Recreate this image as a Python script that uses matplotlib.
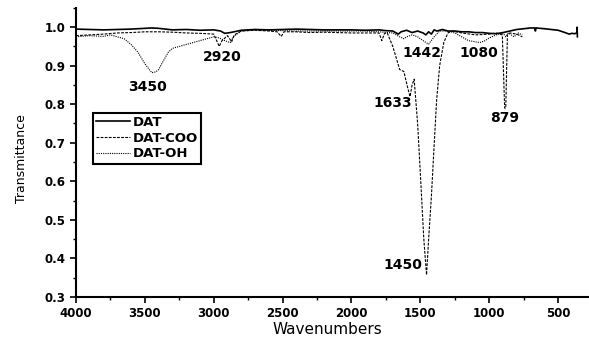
import matplotlib.pyplot as plt
from matplotlib.ticker import MultipleLocator

# FTIR spectra (wavenumber in cm-1, transmittance)
dat_wn = [4000, 3900, 3800, 3700, 3600, 3500, 3450, 3400, 3300, 3200, 3100, 3000,
          2950, 2920, 2880, 2800, 2700, 2600, 2500, 2400, 2300, 2200, 2100, 2000,
          1900, 1800, 1750, 1700, 1660, 1640, 1600, 1560, 1520, 1480, 1460, 1440,
          1420, 1400, 1380, 1340, 1300, 1250, 1200, 1150, 1100, 1050, 1000, 950,
          900, 850, 800, 750, 700, 670, 665, 660, 600, 550, 500, 450, 420, 400,
          380, 365, 362, 360]
dat_t = [0.995, 0.994, 0.993, 0.994, 0.995, 0.997, 0.998, 0.997, 0.993, 0.994, 0.992, 0.993,
         0.990, 0.984, 0.986, 0.992, 0.994, 0.993, 0.994, 0.995, 0.994, 0.993, 0.993, 0.993,
         0.992, 0.993, 0.991, 0.990, 0.982, 0.988, 0.992, 0.986, 0.990, 0.985, 0.980, 0.988,
         0.982, 0.993, 0.990, 0.994, 0.990, 0.990, 0.988, 0.988, 0.986, 0.986, 0.984, 0.983,
         0.986, 0.990, 0.994, 0.996, 0.998, 0.998, 0.990, 0.998, 0.996, 0.994, 0.992, 0.986,
         0.982, 0.984, 0.983, 0.985, 1.000, 0.975]

coo_wn = [4000, 3900, 3800, 3700, 3600, 3500, 3400, 3300, 3200, 3100, 3000, 2960,
          2940, 2900, 2870, 2850, 2800, 2700, 2600, 2540, 2510, 2490, 2400, 2300,
          2200, 2100, 2000, 1900, 1800, 1780, 1760, 1740, 1700, 1650, 1620, 1590,
          1575, 1560, 1545, 1520, 1500, 1475, 1455, 1440, 1420, 1405, 1382, 1360,
          1330, 1300, 1270, 1200, 1100, 1000, 950, 905, 888, 880, 868, 850, 800, 760]
coo_t = [0.978, 0.980, 0.982, 0.985, 0.986, 0.988, 0.988, 0.987, 0.985, 0.984, 0.982, 0.950,
         0.965, 0.978, 0.962, 0.980, 0.990, 0.992, 0.990, 0.988, 0.976, 0.988, 0.988, 0.986,
         0.987, 0.986, 0.985, 0.985, 0.985, 0.965, 0.984, 0.985, 0.950, 0.890, 0.885, 0.840,
         0.820, 0.850, 0.865, 0.750, 0.620, 0.450, 0.357, 0.450, 0.560, 0.660, 0.810, 0.900,
         0.960, 0.985, 0.990, 0.985, 0.980, 0.982, 0.985, 0.980, 0.790, 0.790, 0.980, 0.985,
         0.982, 0.975]

oh_wn = [4000, 3900, 3800, 3750, 3700, 3650, 3600, 3550, 3500, 3450, 3420, 3400,
         3370, 3330, 3300, 3250, 3200, 3100, 3050, 3000, 2960, 2920, 2880, 2860,
         2800, 2700, 2600, 2400, 2200, 2000, 1900, 1800, 1700, 1650, 1620, 1600,
         1560, 1520, 1480, 1440, 1400, 1360, 1300, 1250, 1200, 1150, 1100, 1068,
         1030, 1000, 950, 900, 880, 860, 820, 790, 760]
oh_t = [0.975, 0.978, 0.976, 0.980, 0.975, 0.970, 0.955, 0.935, 0.905, 0.882, 0.884, 0.890,
        0.910, 0.935, 0.945, 0.950, 0.955, 0.965, 0.970, 0.975, 0.972, 0.965, 0.960, 0.975,
        0.990, 0.993, 0.992, 0.990, 0.990, 0.990, 0.990, 0.988, 0.985, 0.975, 0.970, 0.975,
        0.980, 0.975, 0.965, 0.956, 0.975, 0.990, 0.990, 0.985, 0.975, 0.965, 0.962, 0.960,
        0.965, 0.972, 0.980, 0.985, 0.975, 0.985, 0.975, 0.985, 0.980]

# peak annotations (text centre in data coordinates)
peak_labels = ['3450', '2920', '1442', '1080', '1633', '879', '1450']
peak_x = [3480, 2936, 1488, 1074, 1699, 886, 1626]
peak_y = [0.845, 0.923, 0.933, 0.933, 0.803, 0.764, 0.383]

fig = plt.figure(figsize=(5.89, 3.44), dpi=100)
ax = fig.add_axes([0.129, 0.137, 0.870, 0.840])

ax.plot(dat_wn, dat_t, color='black', lw=1.2, label='DAT')
ax.plot(coo_wn, coo_t, color='black', lw=0.8, ls=(0, (2.5, 1.2)), label='DAT-COO')
ax.plot(oh_wn, oh_t, color='black', lw=0.8, ls=(0, (1, 1)), label='DAT-OH')

for lab, x, y in zip(peak_labels, peak_x, peak_y):
    ax.text(x, y, lab, fontsize=10, fontweight='bold', ha='center', va='center')

ax.set_xlim(4000, 280)
ax.set_ylim(0.3, 1.05)
ax.xaxis.set_major_locator(MultipleLocator(500))
ax.xaxis.set_minor_locator(MultipleLocator(250))
ax.yaxis.set_minor_locator(MultipleLocator(0.05))
ax.set_yticks([0.3, 0.4, 0.5, 0.6, 0.7, 0.8, 0.9, 1.0])
ax.set_yticklabels(['0.3', '0.4', '0.5', '0.6', '0.7', '0.8', '0.9', '1.0'])

for side in ['top', 'right']:
    ax.spines[side].set_visible(False)
for side in ['left', 'bottom']:
    ax.spines[side].set_linewidth(1.5)
ax.tick_params(which='major', direction='out', length=4, width=1.2, labelsize=8.5)
ax.tick_params(which='minor', direction='out', length=2, width=1.0)
for lab in ax.get_xticklabels() + ax.get_yticklabels():
    lab.set_fontweight('bold')

ax.set_xlabel('Wavenumbers', fontsize=11)
ax.xaxis.set_label_coords(0.49, -0.087)
ax.set_ylabel('Transmittance', fontsize=9)
ax.yaxis.set_label_coords(-0.094, 0.48)

leg = ax.legend(loc='upper left', bbox_to_anchor=(0.033, 0.637), borderaxespad=0,
                fancybox=False, framealpha=1, edgecolor='black', handlelength=2.6,
                handletextpad=0.15, borderpad=0.25, labelspacing=0.2,
                prop={'weight': 'bold', 'size': 9.5})
leg.get_frame().set_linewidth(1.5)

fig.savefig('out.png', dpi=100)
